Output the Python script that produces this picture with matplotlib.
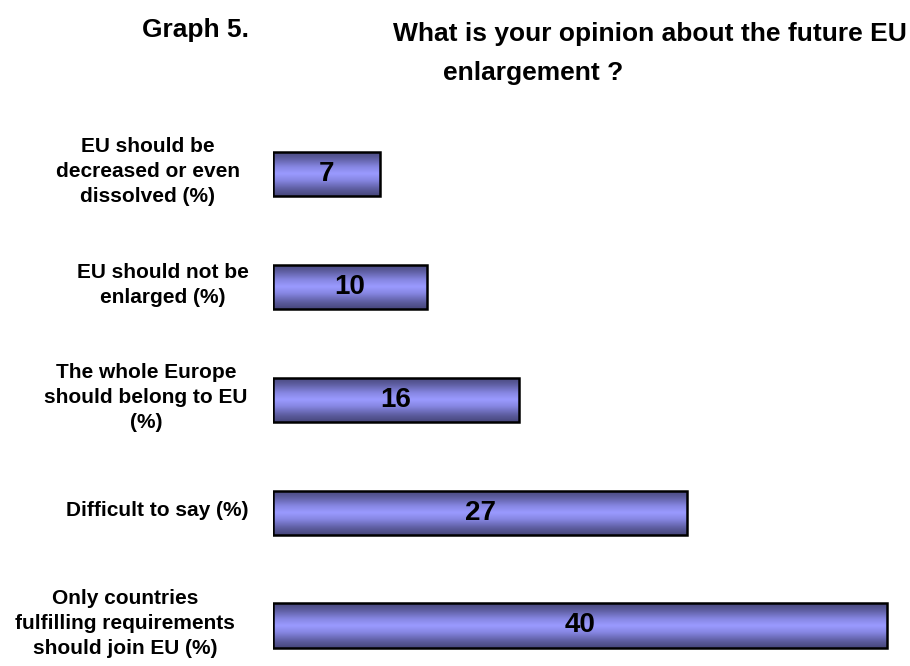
import numpy as np
import matplotlib
matplotlib.use("Agg")
import matplotlib.pyplot as plt
from matplotlib.colors import LinearSegmentedColormap

plt.rcParams['font.family'] = ['Liberation Sans', 'DejaVu Sans']

categories = [
    "EU should be\ndecreased or even\ndissolved (%)",
    "EU should not be\nenlarged (%)",
    "The whole Europe\nshould belong to EU\n(%)",
    "Difficult to say (%)",
    "Only countries\nfulfilling requirements\nshould join EU (%)",
]
values = [7, 10, 16, 27, 40]

W, H = 910, 666
fig = plt.figure(figsize=(W / 100, H / 100), dpi=100)

xmax = 40.5
left_px, right_px = 273, 273 + 614 / 40 * xmax
top_px, bot_px = 117.5, 665
ax = fig.add_axes([left_px / W, 1 - bot_px / H, (right_px - left_px) / W, (bot_px - top_px) / H])
ax.axis('off')

# vertical shading, dark at the edges and light in the middle
cmap = LinearSegmentedColormap.from_list(
    "cyl", [(0.0, "#46467a"), (0.15, "#5c5c9e"), (0.35, "#8686e2"), (0.5, "#9a9aff"),
            (0.65, "#8686e2"), (0.85, "#5c5c9e"), (1.0, "#46467a")])
grad = np.linspace(0, 1, 256).reshape(-1, 1)

label_x = [148, 163, 146, 157, 125]
bh = 0.39
for i, v in enumerate(values):
    bars = ax.barh(i, v, height=bh, color='none', edgecolor='black', linewidth=1.8, zorder=3)
    im = ax.imshow(grad, cmap=cmap, aspect='auto', extent=(0, v, i + bh / 2, i - bh / 2),
                   zorder=2, interpolation='bilinear')
    im.set_clip_path(bars[0])
    ax.text(v / 2, i, str(v), ha='center', va='center', fontsize=20, fontweight='bold', zorder=4)
    fig.text(label_x[i] / W, 1 - (top_px + (i + 0.5) * (bot_px - top_px) / 4.85 - 2) / H, categories[i],
             ha='center', va='center', multialignment='center', fontsize=15,
             fontweight='bold', linespacing=1.4)
ax.set_xlim(0, xmax)
ax.set_ylim(4.35, -0.5)

fig.text(142 / W, 1 - 37 / H, "Graph 5.", ha='left', va='baseline', fontsize=19, fontweight='bold')
fig.text(393 / W, 1 - 41 / H, "What is your opinion about the future EU", ha='left', va='baseline',
         fontsize=19, fontweight='bold')
fig.text(443 / W, 1 - 80 / H, "enlargement ?", ha='left', va='baseline', fontsize=19, fontweight='bold')

fig.savefig("out.png", dpi=100)
